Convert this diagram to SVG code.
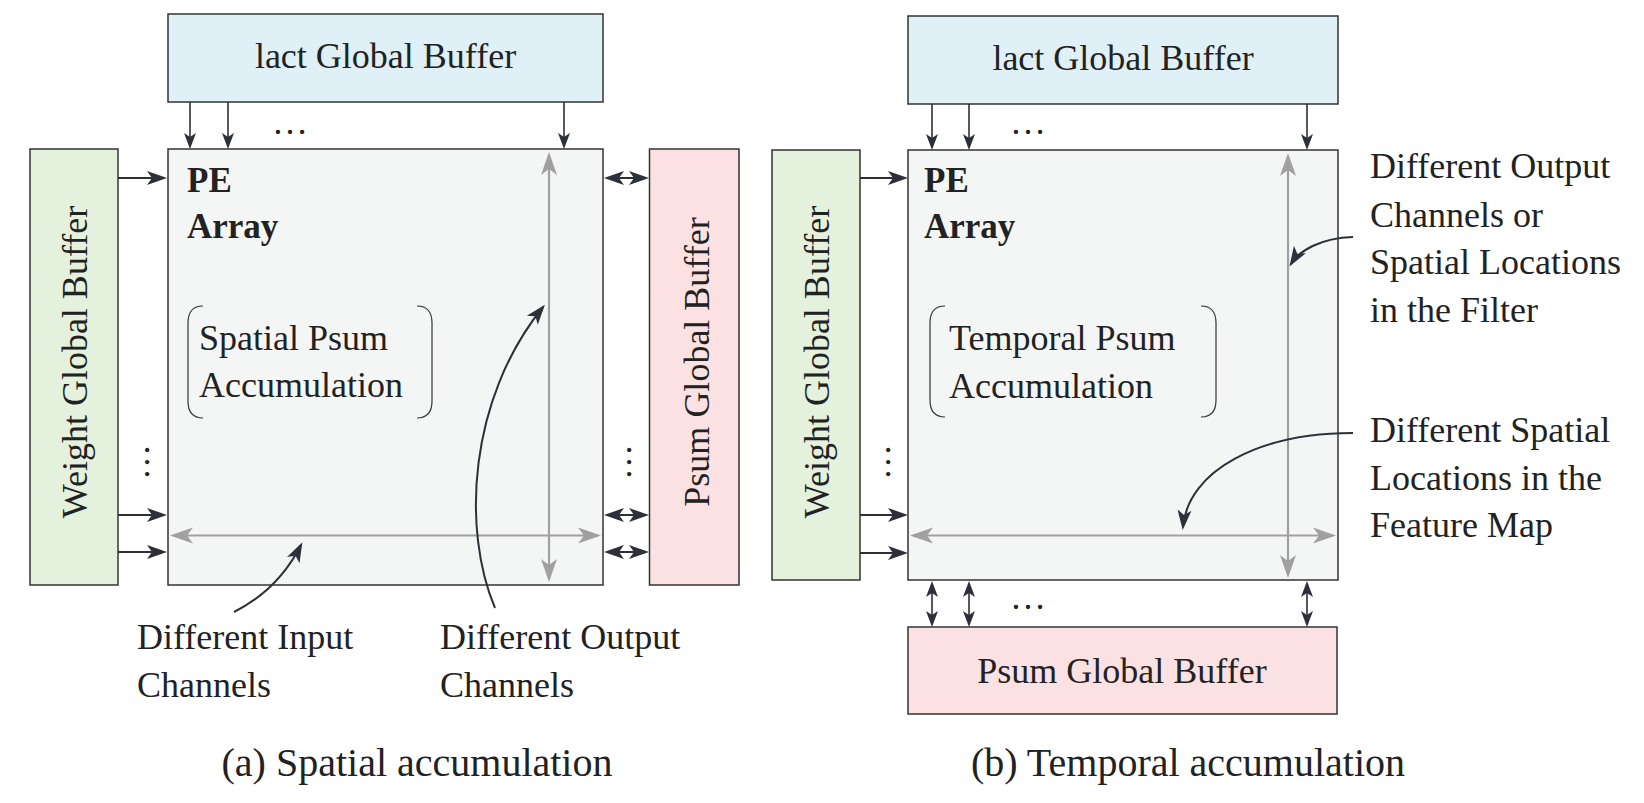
<svg xmlns="http://www.w3.org/2000/svg" width="1644" height="803" viewBox="0 0 1644 803">
<style>
text{font-family:"Liberation Serif","Times New Roman",serif;fill:#222;}
.t{font-size:36px;}
.c{text-anchor:middle;}
.b{font-weight:bold;font-size:35px;}
.cap{font-size:40px;text-anchor:middle;}
.box{stroke:#333;stroke-width:1.5;}
.iact{fill:#dff0f7;}
.wgt{fill:#e3f1dd;}
.psum{fill:#fce1e3;}
.pe{fill:#f4f6f5;}
.ar{stroke:#2d3039;stroke-width:2.2;fill:none;marker-end:url(#ah);}
.arv{stroke:#2d3039;stroke-width:1.6;fill:none;marker-end:url(#ahs);}
.da{stroke:#2d3039;stroke-width:2.2;fill:none;marker-end:url(#ah);marker-start:url(#ah);}
.dav{stroke:#2d3039;stroke-width:1.6;fill:none;marker-end:url(#ahs);marker-start:url(#ahs);}
.g{stroke:#a0a0a0;stroke-width:2.2;fill:none;marker-end:url(#ag);marker-start:url(#ag);}
.cv{stroke:#2d3039;stroke-width:2;fill:none;marker-end:url(#ah);}
.br{stroke:#333;stroke-width:1.2;fill:none;}
</style>
<defs>
<marker id="ah" markerUnits="userSpaceOnUse" viewBox="-24 -8 24 16" markerWidth="24" markerHeight="16" refX="-3" refY="0" orient="auto-start-reverse" overflow="visible"><path d="M0,0 L-20,-7 L-15,0 L-20,7 Z" fill="#2d3039"/></marker>
<marker id="ahs" markerUnits="userSpaceOnUse" viewBox="-24 -8 24 16" markerWidth="24" markerHeight="16" refX="-3" refY="0" orient="auto-start-reverse" overflow="visible"><path d="M0,0 L-16,-6 L-12,0 L-16,6 Z" fill="#2d3039"/></marker>
<marker id="ag" markerUnits="userSpaceOnUse" viewBox="-26 -9 26 18" markerWidth="26" markerHeight="18" refX="-3" refY="0" orient="auto-start-reverse" overflow="visible"><path d="M0,0 L-23,-8 L-17,0 L-23,8 Z" fill="#a0a0a0"/></marker>
</defs>

<!-- ===== Panel (a) ===== -->
<g id="a-iact">
<rect class="box iact" x="168" y="14" width="435" height="88"/>
<text class="t c" x="385.5" y="68">lact Global Buffer</text>
</g>
<g id="a-pe">
<rect class="box pe" x="168" y="149" width="435" height="436"/>
<text class="b" x="187" y="192">PE</text>
<text class="b" x="187" y="238">Array</text>
</g>
<g id="a-weight">
<rect class="box wgt" x="30" y="149" width="88" height="436"/>
<text class="t c" transform="translate(87,362) rotate(-90)">Weight Global Buffer</text>
</g>
<g id="a-psum">
<rect class="box psum" x="649.5" y="149" width="89.5" height="436"/>
<text class="t c" transform="translate(709,362) rotate(-90)">Psum Global Buffer</text>
</g>
<g id="a-accum">
<path class="br" d="M203,306 Q188,306 188,323 L188,401 Q188,418 203,418"/>
<path class="br" d="M417,306 Q432,306 432,323 L432,401 Q432,418 417,418"/>
<text class="t" x="199" y="350">Spatial Psum</text>
<text class="t" x="199" y="397">Accumulation</text>
</g>
<g id="a-labels">
<text class="t" x="137" y="649">Different Input</text>
<text class="t" x="137" y="697">Channels</text>
<text class="t" x="440" y="649">Different Output</text>
<text class="t" x="440" y="697">Channels</text>
<text class="cap" x="417" y="776">(a) Spatial accumulation</text>
</g>
<g id="a-dots">
<text class="t c" x="290" y="134">…</text>
<text class="t c" transform="translate(145,462) rotate(90)">…</text>
<text class="t c" transform="translate(627,462) rotate(90)">…</text>
</g>
<g id="a-connectors">
<line class="arv" x1="190" y1="102" x2="190" y2="146"/>
<line class="arv" x1="228" y1="102" x2="228" y2="146"/>
<line class="arv" x1="564" y1="102" x2="564" y2="146"/>
<line class="ar" x1="118" y1="178" x2="164" y2="178"/>
<line class="ar" x1="118" y1="515" x2="164" y2="515"/>
<line class="ar" x1="118" y1="552" x2="164" y2="552"/>
<line class="da" x1="607" y1="178" x2="646" y2="178"/>
<line class="da" x1="607" y1="515" x2="646" y2="515"/>
<line class="da" x1="607" y1="552" x2="646" y2="552"/>
<line class="g" x1="173" y1="535.5" x2="598" y2="535.5"/>
<line class="g" x1="549" y1="155" x2="549" y2="579"/>
<path class="cv" d="M495,608 C462,530 468,400 543,307"/>
<path class="cv" d="M234,612 Q278,590 301,545"/>
</g>

<!-- ===== Panel (b) ===== -->
<g id="b-iact">
<rect class="box iact" x="908" y="16" width="430" height="88"/>
<text class="t c" x="1123" y="70">lact Global Buffer</text>
</g>
<g id="b-pe">
<rect class="box pe" x="908" y="150" width="430" height="430"/>
<text class="b" x="924" y="192">PE</text>
<text class="b" x="924" y="238">Array</text>
</g>
<g id="b-weight">
<rect class="box wgt" x="772" y="150" width="88" height="430"/>
<text class="t c" transform="translate(829,362) rotate(-90)">Weight Global Buffer</text>
</g>
<g id="b-psum">
<rect class="box psum" x="908" y="627" width="429" height="87"/>
<text class="t c" x="1122" y="683">Psum Global Buffer</text>
</g>
<g id="b-accum">
<path class="br" d="M945,306 Q930,306 930,323 L930,400 Q930,417 945,417"/>
<path class="br" d="M1201,306 Q1216,306 1216,323 L1216,400 Q1216,417 1201,417"/>
<text class="t" x="949" y="350">Temporal Psum</text>
<text class="t" x="949" y="398">Accumulation</text>
</g>
<g id="b-labels">
<text class="t" x="1370" y="178">Different Output</text>
<text class="t" x="1370" y="227">Channels or</text>
<text class="t" x="1370" y="274">Spatial Locations</text>
<text class="t" x="1370" y="322">in the Filter</text>
<text class="t" x="1370" y="442">Different Spatial</text>
<text class="t" x="1370" y="490">Locations in the</text>
<text class="t" x="1370" y="537">Feature Map</text>
<text class="cap" x="1188" y="776">(b) Temporal accumulation</text>
</g>
<g id="b-dots">
<text class="t c" x="1028" y="134">…</text>
<text class="t c" x="1028" y="609">…</text>
<text class="t c" transform="translate(886,462) rotate(90)">…</text>
</g>
<g id="b-connectors">
<line class="arv" x1="932" y1="104" x2="932" y2="147"/>
<line class="arv" x1="969" y1="104" x2="969" y2="147"/>
<line class="arv" x1="1307" y1="104" x2="1307" y2="147"/>
<line class="ar" x1="860" y1="178" x2="905" y2="178"/>
<line class="ar" x1="860" y1="515" x2="905" y2="515"/>
<line class="ar" x1="860" y1="553" x2="905" y2="553"/>
<line class="dav" x1="932" y1="584" x2="932" y2="624"/>
<line class="dav" x1="969" y1="584" x2="969" y2="624"/>
<line class="dav" x1="1307" y1="584" x2="1307" y2="624"/>
<line class="g" x1="913" y1="535.5" x2="1333" y2="535.5"/>
<line class="g" x1="1288" y1="156" x2="1288" y2="575"/>
<path class="cv" d="M1353,237 C1320,238 1299,251 1291,264"/>
<path class="cv" d="M1353,433 C1260,433 1188,470 1183,527"/>
</g>
</svg>
